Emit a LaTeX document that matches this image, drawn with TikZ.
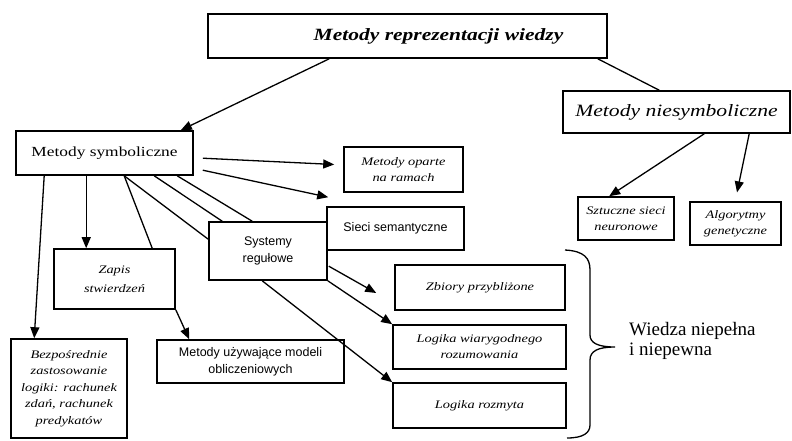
\documentclass[tikz,border=0pt]{standalone}
\usepackage{fontspec}
\setmainfont{Liberation Serif}
\newfontfamily\wideserif[FakeStretch=1.25]{Liberation Serif}
\newfontfamily\plainsans{Liberation Sans}
\usetikzlibrary{arrows.meta,calc}

\begin{document}
\begin{tikzpicture}[x=1pt,y=-1pt,
  box/.style={draw,line width=1.6pt,inner sep=2pt,align=center},
  itlabel/.style={font=\wideserif\itshape\fontsize{11.5}{16}\selectfont},
  sanslabel/.style={font=\plainsans\fontsize{12.5}{17}\selectfont},
  conn/.style={line width=1.3pt},
  arr/.style={conn,-{Triangle[length=11pt,width=9pt]}}]

\useasboundingbox (0,0) rectangle (792,440);

% boxes
\node[box,minimum width=399pt,minimum height=44pt,
      font=\wideserif\bfseries\itshape\fontsize{17.2}{20}\selectfont]
      (top) at (407.5,36) {\hspace*{62pt}Metody reprezentacji wiedzy};
\node[box,minimum width=177pt,minimum height=44pt,
      font=\wideserif\fontsize{13.9}{16}\selectfont]
      (sym) at (104.5,153) {Metody symboliczne};
\node[box,minimum width=227pt,minimum height=42pt,
      font=\wideserif\itshape\fontsize{17.3}{20}\selectfont]
      (nsym) at (676.5,112) {Metody niesymboliczne};

\node[box,itlabel,minimum width=119pt,minimum height=45pt] (ramy) at (403.5,169.5) {Metody oparte\\na ramach};
\node[box,sanslabel,minimum width=137pt,minimum height=43pt] (siec) at (395.5,228.5) {Sieci semantyczne};
\node[box,sanslabel,minimum width=118pt,minimum height=58pt] (sys) at (268,251) {Systemy\\regułowe};
\node[box,itlabel,minimum width=121pt,minimum height=60pt,
      font=\wideserif\itshape\fontsize{11.5}{19}\selectfont] (zapis) at (114.5,279) {Zapis\\stwierdzeń};
\node[box,itlabel,minimum width=116pt,minimum height=99pt,
      font=\wideserif\itshape\fontsize{11.5}{16.5}\selectfont] (bezp) at (69,388.5)
      {Bezpośrednie\\zastosowanie\\logiki: rachunek\\zdań, rachunek\\predykatów};
\node[box,sanslabel,minimum width=187pt,minimum height=43pt] (model) at (250.5,361.5) {Metody używające modeli\\obliczeniowych};
\node[box,itlabel,minimum width=170pt,minimum height=45pt] (zbiory) at (480,287.5) {Zbiory przybliżone};
\node[box,itlabel,minimum width=173pt,minimum height=44pt] (wiar) at (479.5,347) {Logika wiarygodnego\\rozumowania};
\node[box,itlabel,minimum width=173pt,minimum height=45pt] (rozm) at (479.5,405.5) {Logika rozmyta};
\node[box,itlabel,minimum width=96pt,minimum height=43pt] (szt) at (626,218.5) {Sztuczne sieci\\neuronowe};
\node[box,itlabel,minimum width=91pt,minimum height=43pt] (alg) at (735.5,223.5) {Algorytmy\\genetyczne};

% connectors from the root
\draw[arr] ($(top.south west)+(122,0)$) -- ($(sym.north east)+(-13,0)$);
\draw[conn] ($(top.south east)+(-10,0)$) -- ($(nsym.north west)+(97,0)$);

% symbolic methods
\draw[arr] ($(sym.south west)+(29,0)$) -- ($(bezp.north west)+(24,0)$);
\draw[arr] ($(sym.south west)+(71,0)$) -- ($(zapis.north west)+(33,0)$);
\draw[conn] ($(sym.south west)+(109,0)$) -- ($(zapis.north west)+(99,0)$);
\draw[conn] ($(sym.south west)+(109,0)$) -- ($(sys.north west)+(0,18)$);
\draw[conn] ($(sym.south west)+(139,0)$) -- ($(sys.north west)+(14,0)$);
\draw[conn] ($(sym.south west)+(162,0)$) -- ($(sys.north west)+(44,0)$);
\draw[arr] ($(sym.north east)+(9,28)$) -- ($(ramy.west)+(-9,-5)$);
\draw[arr] ($(sym.north east)+(9,40)$) -- ($(siec.north west)+(2,-9)$);
\draw[arr] (zapis.south east) -- ($(model.north west)+(33,0)$);

% rule systems
\draw[arr] ($(sys.north east)+(1,45)$) -- ($(zbiory.west)+(-18,5.5)$);
\draw[arr] (sys.south east) -- (wiar.north west);
\draw[arr] ($(sys.south west)+(54,0)$) -- (rozm.north west);

% non-symbolic methods
\draw[arr] ($(nsym.south west)+(142,0)$) -- ($(szt.north west)+(32,0)$);
\draw[arr,shorten >=9pt] ($(nsym.south west)+(187,0)$) -- ($(alg.north west)+(46,0)$);

% brace over the uncertain-knowledge methods
\draw[conn] (565,250) .. controls (584,251) and (590,258) .. (590,270)
  -- (590,335) .. controls (590,343) and (598,347) .. (615,347)
  .. controls (598,347) and (590,351) .. (590,360)
  -- (590,425) .. controls (590,433) and (583,438) .. (567,438);
\node[font=\fontsize{19}{20}\selectfont,align=left,anchor=west,inner sep=0pt]
  (wiedza) at (629,341) {Wiedza niepełna\\i niepewna};
\end{tikzpicture}
\end{document}
